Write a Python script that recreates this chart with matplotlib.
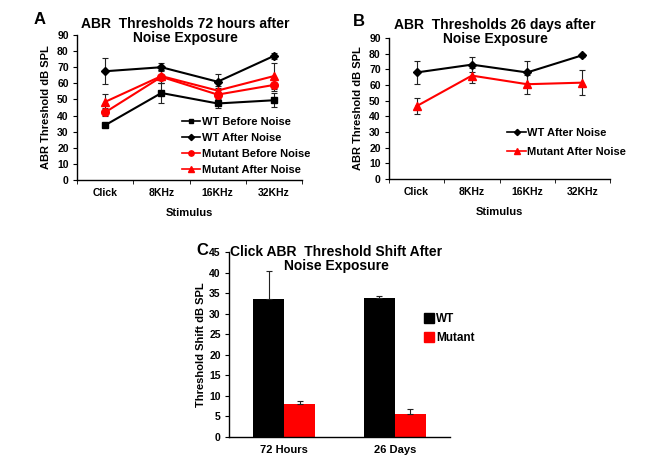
import numpy as np
import matplotlib.pyplot as plt
from matplotlib.patches import Patch
from matplotlib.lines import Line2D

plt.rcParams['font.family'] = ['Liberation Sans', 'DejaVu Sans']
plt.rcParams['font.weight'] = 'bold'

W, H = 668, 469

# data
stimuli = ['Click', '8KHz', '16KHz', '32KHz']

# panel A: 72 hours
wt_before = [34, 54, 47.5, 49.5]
wt_before_err = [1, 6.5, 3, 4.5]
wt_after_72 = [67.5, 70, 61, 77]
wt_after_72_err = [8, 2.5, 5, 2]
mut_before = [42, 64, 53, 59]
mut_before_err = [2.5, 4, 4, 4]
mut_after_72 = [48.5, 64.5, 55.5, 64.5]
mut_after_72_err = [5, 4, 3, 8]

# panel B: 26 days
wt_after_26 = [68, 73, 68, 79]
wt_after_26_err = [7.5, 5, 7, 1]
mut_after_26 = [46.5, 66, 60.5, 61.5]
mut_after_26_err = [5, 5, 6, 8]

# panel C: click threshold shift
times = ['72 Hours', '26 Days']
shift_wt = [33.5, 33.7]
shift_wt_err = [7, 0.5]
shift_mut = [8, 5.7]
shift_mut_err = [0.7, 1]

RED = '#ff0000'
TICK = 7.5
LEG = dict(weight='bold', size=8)


def px_axes(l, t, r, b):
    return fig.add_axes([l / W, 1 - b / H, (r - l) / W, (b - t) / H])


def ftext(x, y, s, **kw):
    fig.text(x / W, 1 - y / H, s, **kw)


def style_axes(ax, ymax, ystep, labels):
    for s in ['top', 'right']:
        ax.spines[s].set_visible(False)
    for s in ['left', 'bottom']:
        ax.spines[s].set_linewidth(1.0)
    n = len(labels)
    ax.set_xlim(0, n)
    ax.set_ylim(0, ymax)
    ax.set_yticks(np.arange(0, ymax + 1, ystep))
    ax.set_xticks(np.arange(n) + 0.5)
    ax.set_xticklabels(labels)
    ax.set_xticks(np.arange(n + 1), minor=True)
    ax.tick_params(axis='x', which='major', length=0, pad=6, labelsize=TICK)
    ax.tick_params(axis='x', which='minor', length=3, direction='out')
    ax.tick_params(axis='y', length=3, direction='out', labelsize=TICK, pad=3)
    for lab in ax.get_xticklabels() + ax.get_yticklabels():
        lab.set_fontweight('bold')


def series(ax, y, err, color, marker, ms):
    x = np.arange(len(y)) + 0.5
    ax.errorbar(x, y, yerr=err, color=color, marker=marker, ms=ms, lw=1.5,
                ecolor='#222222', elinewidth=0.8, capsize=2.5, capthick=0.8)
    return Line2D([], [], color=color, marker=marker, ms=ms * 0.7, lw=1.2)


fig = plt.figure(figsize=(W / 100, H / 100), dpi=100)

# ---- panel A
axA = px_axes(77, 35, 302, 180)
style_axes(axA, 90, 10, stimuli)
hA = [series(axA, wt_before, wt_before_err, 'black', 's', 5),
      series(axA, wt_after_72, wt_after_72_err, 'black', 'D', 4.5),
      series(axA, mut_before, mut_before_err, RED, 'o', 5.5),
      series(axA, mut_after_72, mut_after_72_err, RED, '^', 5.5)]
axA.legend(hA, ['WT Before Noise', 'WT After Noise', 'Mutant Before Noise',
                'Mutant After Noise'],
           loc='lower left', bbox_to_anchor=(0.44, -0.005), frameon=False,
           handlelength=1.7, handletextpad=0.1, labelspacing=0.55,
           borderpad=0, prop=LEG)
axA.set_ylabel('ABR Threshold dB SPL', fontsize=8, fontweight='bold', labelpad=4)
axA.set_xlabel('Stimulus', fontsize=8, fontweight='bold', labelpad=7)
ftext(40, 20, 'A', fontsize=12, fontweight='bold', ha='center', va='center')
ftext(185, 31, 'ABR  Thresholds 72 hours after\nNoise Exposure', fontsize=10,
      fontweight='bold', ha='center', va='center', linespacing=1.0)

# ---- panel B
axB = px_axes(389, 38, 610, 179)
style_axes(axB, 90, 10, stimuli)
hB = [series(axB, wt_after_26, wt_after_26_err, 'black', 'D', 4.5),
      series(axB, mut_after_26, mut_after_26_err, RED, '^', 5.5)]
axB.legend(hB, ['WT After Noise', 'Mutant After Noise'],
           loc='lower left', bbox_to_anchor=(0.51, 0.12), frameon=False,
           handlelength=1.7, handletextpad=0.1, labelspacing=0.8,
           borderpad=0, prop=LEG)
axB.set_ylabel('ABR Threshold dB SPL', fontsize=8, fontweight='bold', labelpad=4)
axB.set_xlabel('Stimulus', fontsize=8, fontweight='bold', labelpad=7)
ftext(359, 22, 'B', fontsize=12, fontweight='bold', ha='center', va='center')
ftext(495, 32, 'ABR  Thresholds 26 days after\nNoise Exposure', fontsize=10,
      fontweight='bold', ha='center', va='center', linespacing=1.0)

# ---- panel C
axC = px_axes(229, 252, 450, 437)
style_axes(axC, 45, 5, times)
xc = np.arange(len(times)) + 0.5
bw = 0.28
ekw = dict(ecolor='#222222', elinewidth=0.8, capsize=2.5, capthick=0.8)
axC.bar(xc - bw / 2, shift_wt, bw, color='black',
        yerr=[np.zeros(len(shift_wt)), shift_wt_err], error_kw=ekw)
axC.bar(xc + bw / 2, shift_mut, bw, color=RED,
        yerr=[np.zeros(len(shift_mut)), shift_mut_err], error_kw=ekw)
axC.legend(handles=[Patch(color='black', label='WT'), Patch(color=RED, label='Mutant')],
           loc='lower left', bbox_to_anchor=(0.855, 0.47), frameon=False,
           handlelength=0.85, handleheight=0.85, handletextpad=0.2, labelspacing=0.6,
           borderpad=0, prop=dict(weight='bold', size=8.5))
axC.tick_params(axis='x', which='major', labelsize=8, pad=6)
axC.tick_params(axis='x', which='minor', length=0)
axC.set_ylabel('Threshold Shift dB SPL', fontsize=8, fontweight='bold', labelpad=2)
ftext(202, 250, 'C', fontsize=12, fontweight='bold', ha='center', va='center')
ftext(336, 259, 'Click ABR  Threshold Shift After\nNoise Exposure', fontsize=10,
      fontweight='bold', ha='center', va='center', linespacing=1.0)

fig.savefig('out.png', dpi=100)
